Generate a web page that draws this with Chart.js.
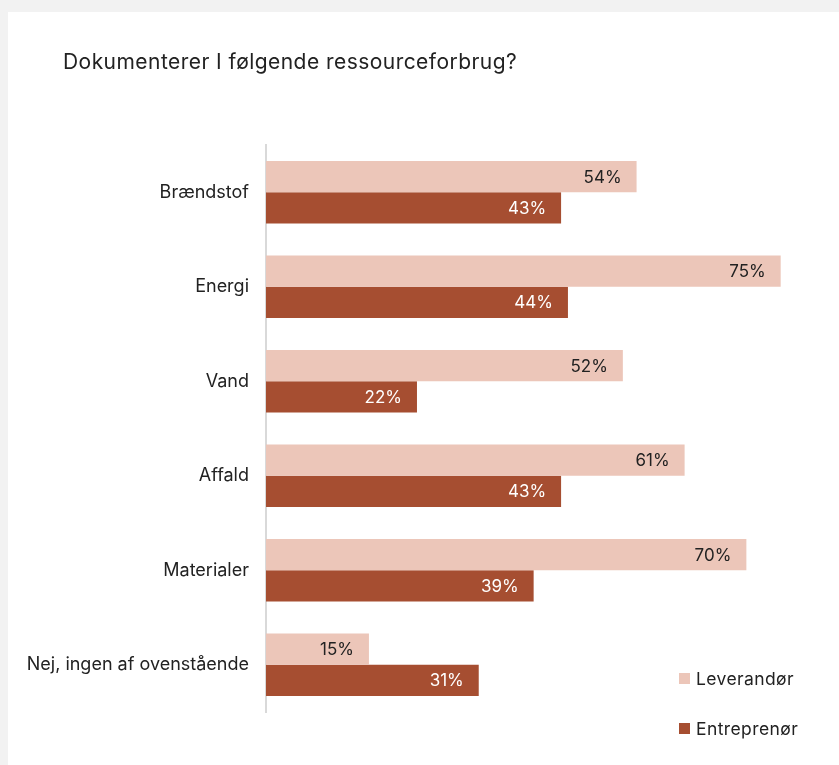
<!DOCTYPE html>
<html>
<head>
<meta charset="utf-8">
<script src="https://cdn.jsdelivr.net/npm/chart.js@4/dist/chart.umd.min.js"></script>
<style>
    html, body { margin: 0; padding: 0; background: #f2f2f2; width: 839px; height: 765px; overflow: hidden; }
    #card { position: absolute; left: 8px; top: 12px; width: 831px; height: 753px; background: #fff; }
    #title { position: absolute; left: 55px; top: 37px; font-family: "Inter", sans-serif; font-size: 21px; letter-spacing: 0.45px; color: #222; }
    #chartWrap { position: absolute; left: 0; top: 0; width: 831px; height: 753px; }
    #legend { position: absolute; left: 671px; top: 655px; font-family: "Inter", sans-serif; font-size: 17.5px; letter-spacing: 0.4px; color: #222; }
    .item { display: flex; align-items: center; height: 22px; margin-bottom: 28px; }
    .sw { width: 11px; height: 11px; margin-right: 6px; }
</style>
</head>
<body>
<div id="card">
    <div id="chartWrap"><canvas id="myChart"></canvas></div>
    <div id="title">Dokumenterer I følgende ressourceforbrug?</div>
    <div id="legend"></div>
</div>
<script>
const categories = ['Brændstof', 'Energi', 'Vand', 'Affald', 'Materialer', 'Nej, ingen af ovenstående'];
const leverandor = [54, 75, 52, 61, 70, 15];
const entreprenor = [43, 44, 22, 43, 39, 31];
const seriesNames = ['Leverandør', 'Entreprenør'];
const colors = ['#ecc6b9', '#a64e31'];
const labelColors = ['#222222', '#ffffff'];

// values written inside the bar ends
const barLabels = {
    id: 'barLabels',
    afterDatasetsDraw(chart) {
        const ctx = chart.ctx;
        ctx.save();
        ctx.font = '17px Inter, sans-serif';
        ctx.textAlign = 'right';
        ctx.textBaseline = 'middle';
        chart.data.datasets.forEach((ds, i) => {
            chart.getDatasetMeta(i).data.forEach((bar, j) => {
                ctx.fillStyle = labelColors[i];
                ctx.fillText(ds.data[j] + '%', bar.x - 15, bar.y + 1);
            });
        });
        ctx.restore();
    }
};

const ctx = document.getElementById('myChart').getContext('2d');
const chart = new Chart(ctx, {
    type: 'bar',
    data: {
        labels: categories,
        datasets: [{
            label: seriesNames[0],
            data: leverandor,
            backgroundColor: colors[0],
            categoryPercentage: 0.66,
            barPercentage: 1.0
        }, {
            label: seriesNames[1],
            data: entreprenor,
            backgroundColor: colors[1],
            categoryPercentage: 0.66,
            barPercentage: 1.0
        }]
    },
    options: {
        indexAxis: 'y',
        responsive: true,
        maintainAspectRatio: false,
        animation: false,
        layout: {
            padding: { top: 133, bottom: 53, right: 24, left: 0 }
        },
        plugins: {
            legend: { display: false },
            tooltip: { enabled: false },
            title: { display: false }
        },
        scales: {
            x: {
                display: false,
                min: 0,
                max: 80
            },
            y: {
                grid: { display: false },
                border: { display: true, color: '#d9d9d9', width: 2 },
                ticks: {
                    color: '#222',
                    padding: 9,
                    font: { family: 'Inter, sans-serif', size: 18 }
                },
                afterFit(scale) {
                    scale.width = 258;
                }
            }
        }
    },
    plugins: [barLabels]
});

const legend = document.getElementById('legend');
seriesNames.forEach((name, i) => {
    legend.innerHTML += `<div class="item"><span class="sw" style="background:${colors[i]}"></span>${name}</div>`;
});
</script>
</body>
</html>
